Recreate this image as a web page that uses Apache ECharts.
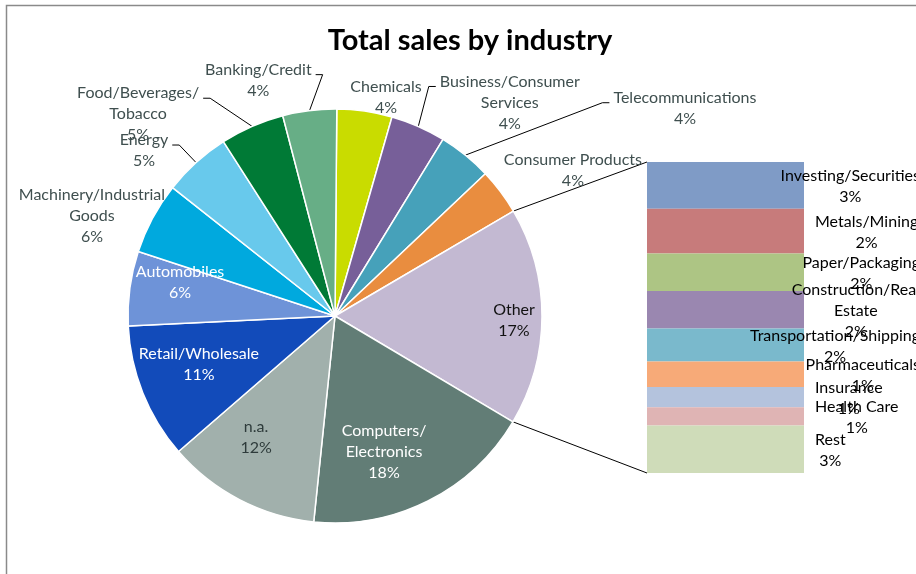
<!DOCTYPE html>
<html>
<head>
<meta charset="utf-8">
<script src="https://cdn.jsdelivr.net/npm/echarts@6/dist/echarts.min.js"></script>
<style>
  html, body { margin: 0; padding: 0; background: #fff; }
  #chart { width: 916px; height: 574px; }
</style>
</head>
<body>
<div id="chart"></div>
<script>
// Share of total sales by industry (percent), clockwise from 12 o'clock
const industries = [
  'Chemicals', 'Business/Consumer\nServices', 'Telecommunications', 'Consumer Products',
  'Other', 'Computers/\nElectronics', 'n.a.', 'Retail/Wholesale', 'Automobiles',
  'Machinery/Industrial\nGoods', 'Energy', 'Food/Beverages/\nTobacco', 'Banking/Credit'
];
const industryShares = [4.3, 4.3, 4.2, 3.6, 17.0, 18.1, 12.0, 10.6, 5.8, 5.6, 5.3, 5.0, 4.2];

// What the "Other" slice is made of (percent of total sales)
const otherCategories = [
  'Investing/Securities', 'Metals/Mining', 'Paper/Packaging', 'Construction/Real\nEstate',
  'Transportation/Shipping', 'Pharmaceuticals', 'Insurance', 'Health Care', 'Rest'
];
const otherShares = [2.55, 2.45, 2.05, 2.05, 1.8, 1.4, 1.1, 1.0, 2.6];

// ---- styling ----
const pieColors = ['#c9dc00', '#775f99', '#46a1ba', '#e98d3f', '#c3b9d2', '#627d76', '#a1b0ac',
                   '#124bba', '#6e93d8', '#00a9de', '#68c9ec', '#007a36', '#67ae86'];
const pieLabelColors = ['#3f4f4f', '#3f4f4f', '#3f4f4f', '#3f4f4f', '#111111', '#ffffff', '#2e3b3b',
                        '#ffffff', '#ffffff', '#3f4f4f', '#3f4f4f', '#3f4f4f', '#3f4f4f'];
const barColors = ['#7f9bc6', '#c77b7b', '#adc584', '#9a87b0', '#7ab9cc', '#f7aa78', '#b4c3dd',
                   '#dfb4b4', '#cfdcb9'];

// label anchor for each slice: [angle clockwise from 12 o'clock (deg), distance in radii, leader line]
const pieLabelPlacement = [
  [13.1, 1.087, false], [39.3, 1.333, true], [59.3, 1.966, true], [58.5, 1.348, false],
  [91.4, 0.865, false], [160.2, 0.699, false], [213.0, 0.700, false], [250.4, 0.698, false],
  [282.2, 0.766, false], [292.4, 1.270, false], [310.9, 1.221, true], [315.7, 1.362, true],
  [342.0, 1.198, true]
];

const FONT = 'Lato, "Open Sans", sans-serif';
const FONT_SIZE = 16;
const LINE_H = 21;
const PIE_CX = 335, PIE_CY = 316, PIE_R = 207;
const START_DEG = 0.5;              // first slice starts just right of 12 o'clock
const BAR_LEFT = 647, BAR_TOP = 162, BAR_W = 157, BAR_H = 311;
const LABEL_LIMIT_X = 920;          // right edge of the label area

const total = industryShares.reduce((s, v) => s + v, 0);
const otherIndex = industries.indexOf('Other');

// slice boundaries in radians, clockwise from 12 o'clock
const sliceStart = [];
const sliceEnd = [];
let acc = 0;
industryShares.forEach(v => {
  sliceStart.push((START_DEG + acc / total * 360) * Math.PI / 180);
  acc += v;
  sliceEnd.push((START_DEG + acc / total * 360) * Math.PI / 180);
});
const edgePoint = a => [PIE_CX + Math.sin(a) * PIE_R, PIE_CY - Math.cos(a) * PIE_R];

function pieLabelLayout(p) {
  const i = p.dataIndex;
  const [deg, dist, leader] = pieLabelPlacement[i];
  const a = deg * Math.PI / 180;
  const cx = PIE_CX + Math.sin(a) * dist * PIE_R;
  const cy = PIE_CY - Math.cos(a) * dist * PIE_R;
  const out = { x: cx, y: cy, align: 'center', verticalAlign: 'middle' };
  if (leader) {
    const w = p.labelRect.width, h = p.labelRect.height;
    const e = edgePoint((sliceStart[i] + sliceEnd[i]) / 2);
    const onLeft = cx < e[0];
    const side = onLeft ? cx + w / 2 + 4 : cx - w / 2 - 4;
    const ly = cy - h / 2 + LINE_H / 2 + 5;
    const bend = onLeft ? side + 7 : side - 7;
    out.labelLinePoints = [e, [bend, ly], [side, ly]];
  }
  return out;
}

function barLabelLayout(p) {
  const r = p.rect, lr = p.labelRect;
  const left = Math.min(r.x + r.width + 11, LABEL_LIMIT_X - lr.width);
  return { x: left + lr.width / 2, y: r.y + r.height / 2 + 1.5, align: 'center', verticalAlign: 'middle' };
}

const pieData = industries.map((name, i) => ({
  name,
  value: industryShares[i],
  itemStyle: { color: pieColors[i] },
  label: { color: pieLabelColors[i] },
  labelLine: { show: pieLabelPlacement[i][2] }
}));

const barSeries = otherCategories.map((name, i) => ({
  type: 'bar',
  name,
  stack: 'other',
  barWidth: '100%',
  data: [otherShares[i]],
  itemStyle: { color: barColors[i] },
  label: {
    show: true,
    formatter: p => p.seriesName + '\n' + Math.round(p.value) + '%',
    color: '#000',
    fontFamily: FONT,
    fontSize: FONT_SIZE,
    lineHeight: LINE_H
  },
  labelLayout: barLabelLayout,
  emphasis: { disabled: true },
  animation: false
}));

const chart = echarts.init(document.getElementById('chart'), null, { renderer: 'canvas' });

chart.setOption({
  backgroundColor: '#fff',
  animation: false,
  title: {
    text: 'Total sales by industry',
    left: 465,
    top: 21,
    textAlign: 'center',
    textStyle: { fontFamily: FONT, fontSize: 29, fontWeight: 'bold', color: '#000' }
  },
  grid: { left: BAR_LEFT, top: BAR_TOP, width: BAR_W, height: BAR_H },
  xAxis: { type: 'category', data: ['Other'], show: false, boundaryGap: true },
  yAxis: { type: 'value', min: 0, max: otherShares.reduce((s, v) => s + v, 0), inverse: true, show: false },
  series: [
    {
      type: 'pie',
      center: [PIE_CX, PIE_CY],
      radius: PIE_R,
      startAngle: 90 - START_DEG,
      clockwise: true,
      avoidLabelOverlap: false,
      data: pieData,
      itemStyle: { borderColor: '#fff', borderWidth: 1.5 },
      label: {
        show: true,
        position: 'outside',
        formatter: p => p.name + '\n' + Math.round(p.percent) + '%',
        fontFamily: FONT,
        fontSize: FONT_SIZE,
        lineHeight: LINE_H
      },
      labelLine: { show: true, lineStyle: { color: '#000', width: 1 } },
      labelLayout: pieLabelLayout,
      emphasis: { disabled: true }
    },
    ...barSeries
  ]
});

// connector lines from the "Other" slice to the breakdown bar
const yTop = chart.convertToPixel({ yAxisIndex: 0 }, 0);
const yBottom = chart.convertToPixel({ yAxisIndex: 0 }, otherShares.reduce((s, v) => s + v, 0));
const pTop = edgePoint(sliceStart[otherIndex]);
const pBottom = edgePoint(sliceEnd[otherIndex]);

chart.setOption({
  graphic: [
    {
      type: 'rect', silent: true, z: -1,
      shape: { x: 6.5, y: 5.5, width: 1200, height: 1200 },
      style: { fill: 'none', stroke: '#8a8a8a', lineWidth: 1.5 }
    },
    {
      type: 'line', silent: true,
      shape: { x1: pTop[0], y1: pTop[1], x2: BAR_LEFT, y2: yTop },
      style: { stroke: '#000', lineWidth: 1 }
    },
    {
      type: 'line', silent: true,
      shape: { x1: pBottom[0], y1: pBottom[1], x2: BAR_LEFT, y2: yBottom },
      style: { stroke: '#000', lineWidth: 1 }
    }
  ]
});
</script>
</body>
</html>
